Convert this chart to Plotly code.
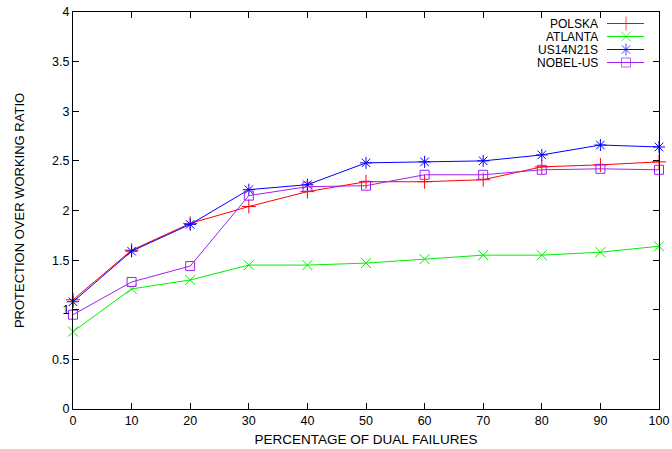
import plotly.graph_objects as go

x_vals = [0, 10, 20, 30, 40, 50, 60, 70, 80, 90, 100]
polska = [1.10, 1.60, 1.87, 2.04, 2.19, 2.29, 2.29, 2.31, 2.44, 2.46, 2.49]
atlanta = [0.78, 1.21, 1.30, 1.45, 1.45, 1.47, 1.51, 1.55, 1.55, 1.58, 1.64]
us14n21s = [1.08, 1.59, 1.86, 2.21, 2.26, 2.48, 2.49, 2.50, 2.56, 2.66, 2.64]
nobel_us = [0.95, 1.28, 1.44, 2.15, 2.24, 2.25, 2.36, 2.36, 2.41, 2.42, 2.41]

y_ticks = [0, 0.5, 1, 1.5, 2, 2.5, 3, 3.5, 4]
y_labels = ["0", "0.5", "1", "1.5", "2", "2.5", "3", "3.5", "4"]

names = ["POLSKA", "ATLANTA", "US14N21S", "NOBEL-US"]
series = [polska, atlanta, us14n21s, nobel_us]
colors = ["#ff0000", "#00ee00", "#0000ff", "#a020f0"]
symbols = ["cross-thin-open", "x-thin-open", "asterisk-open", "square-open"]
sizes = [10, 10, 10, 9]

W, H = 672, 449
ml, mr, mt, mb = 73, 13, 12, 40
FONT = "Liberation Sans, Arial, Helvetica, sans-serif"

fig = go.Figure()
for n, s, c, sym, sz in zip(names, series, colors, symbols, sizes):
    fig.add_trace(go.Scatter(
        x=x_vals, y=s, mode="lines+markers", name=n,
        line=dict(color=c, width=1),
        marker=dict(symbol=sym, size=sz, color=c, line=dict(color=c, width=1)),
        showlegend=False, cliponaxis=False,
    ))

# custom gnuplot-style key (text right, sample on the right)
pw = W - ml - mr
ph = H - mt - mb
def px2x(px):
    return (px - ml) / pw
def py2y(py):
    return 1 - (py - mt) / ph

row_y = [23.5, 36.5, 49.5, 62.5]
for i, (n, c, sym, sz) in enumerate(zip(names, colors, symbols, sizes)):
    yy = py2y(row_y[i])
    fig.add_trace(go.Scatter(
        x=[px2x(607), px2x(626), px2x(644)], y=[yy, yy, yy],
        mode="lines+markers", xaxis="x2", yaxis="y2",
        line=dict(color=c, width=1),
        marker=dict(symbol=sym, size=[0, sz, 0], color=c, line=dict(color=c, width=1)),
        showlegend=False, hoverinfo="skip",
    ))
    fig.add_annotation(
        x=px2x(599), y=yy, xref="x2", yref="y2", text=n, showarrow=False,
        xanchor="right", yanchor="middle", height=11, borderpad=0,
        font=dict(family=FONT, size=12, color="black"),
    )

axis_common = dict(
    showgrid=False, zeroline=False, showline=True, linecolor="black", linewidth=1,
    mirror="allticks", ticks="inside", ticklen=6, tickcolor="black", tickwidth=1,
    tickfont=dict(family=FONT, size=12.5, color="black"), automargin=False,
)

fig.update_layout(
    width=W, height=H,
    margin=dict(l=ml, r=mr, t=mt, b=mb),
    paper_bgcolor="white", plot_bgcolor="white",
    font=dict(family=FONT, size=12, color="black"),
    xaxis=dict(range=[0, 100], tickvals=x_vals, ticktext=[str(v) for v in x_vals],
               title=dict(text="PERCENTAGE OF DUAL FAILURES", standoff=7,
                          font=dict(family=FONT, size=13.5)), **axis_common),
    yaxis=dict(range=[0, 4], tickvals=y_ticks, ticktext=y_labels,
               title=dict(text="PROTECTION OVER WORKING RATIO", standoff=24,
                          font=dict(family=FONT, size=13)), **axis_common),
    xaxis2=dict(range=[0, 1], overlaying="x", visible=False, fixedrange=True),
    yaxis2=dict(range=[0, 1], overlaying="y", visible=False, fixedrange=True),
    showlegend=False,
)

fig.write_html("out.html")
